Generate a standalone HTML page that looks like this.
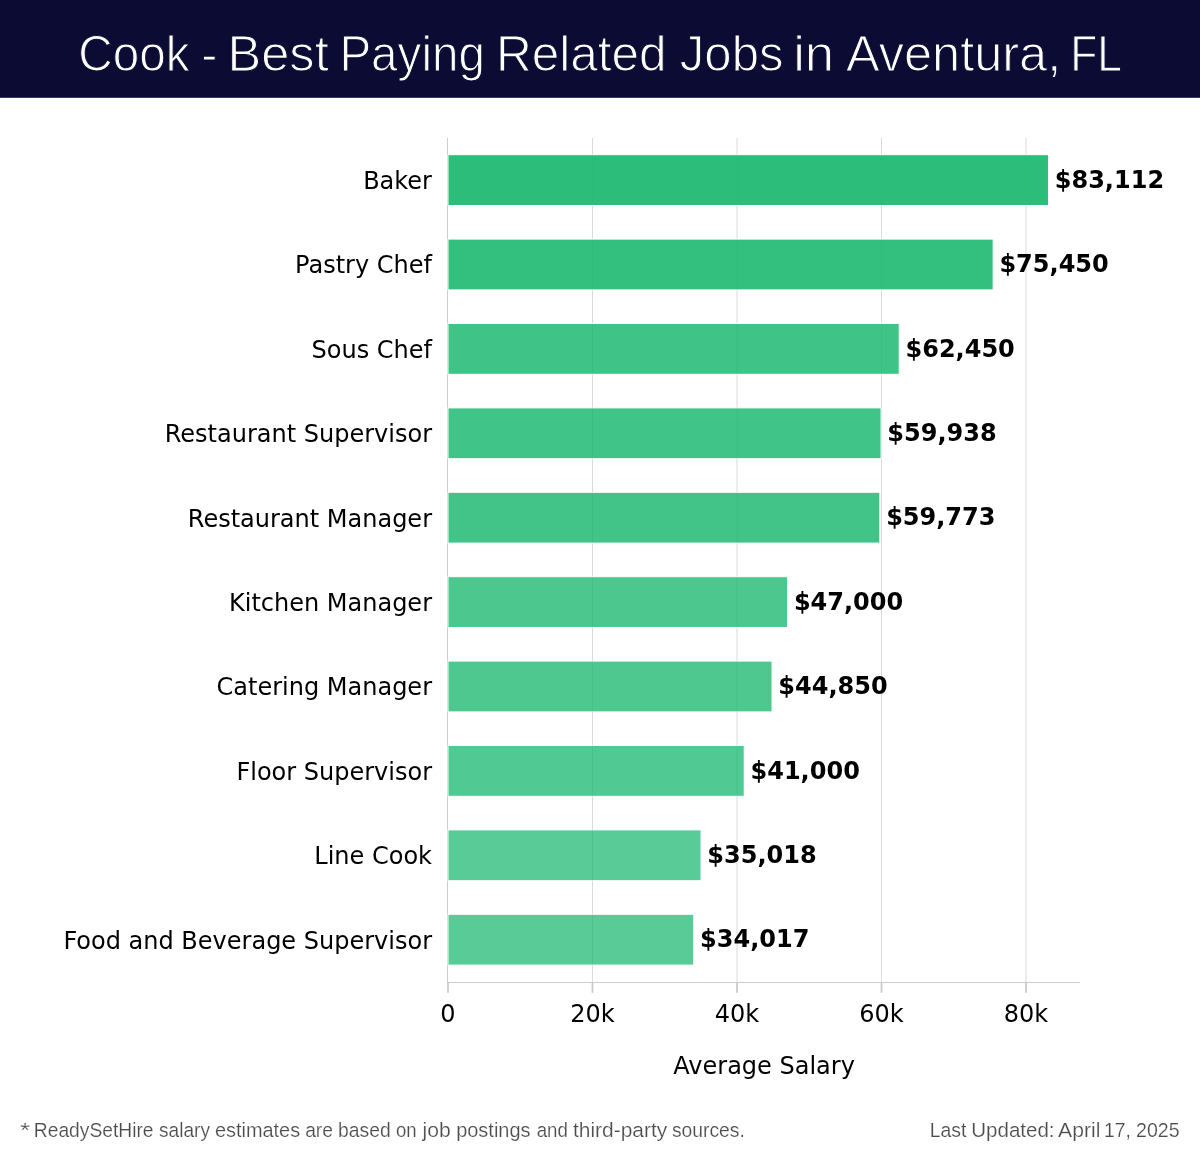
<!DOCTYPE html>
<html lang="en"><head><meta charset="utf-8"><title>Cook - Best Paying Related Jobs in Aventura, FL</title>
<style>
html,body{margin:0;padding:0;background:#fff}
svg{display:block}
.t{font-family:"DejaVu Sans","Liberation Sans",sans-serif;font-size:24px;fill:#000}
.b{font-family:"DejaVu Sans","Liberation Sans",sans-serif;font-size:24px;font-weight:bold;fill:#000}
.h{font-family:"Liberation Sans","DejaVu Sans",sans-serif;fill:#fff;stroke:#0b0b34;stroke-width:1.1px}
.f{font-family:"Liberation Sans","DejaVu Sans",sans-serif;fill:#4c4c4c;stroke:#fff;stroke-width:0.2px}
</style></head><body>
<svg width="1200" height="1158" viewBox="0 0 1200 1158">
<rect x="0" y="0" width="1200" height="1158" fill="#fff"/>
<rect x="0" y="0" width="1200" height="97.8" fill="#0b0b34"/>

<text class="h" font-size="50.5" y="71"><tspan x="78.24" textLength="111.26" lengthAdjust="spacingAndGlyphs">Cook</tspan> <tspan x="201.14" textLength="16.02" lengthAdjust="spacingAndGlyphs">-</tspan> <tspan x="227.53" textLength="101.19" lengthAdjust="spacingAndGlyphs">Best</tspan> <tspan x="339.38" textLength="145.55" lengthAdjust="spacingAndGlyphs">Paying</tspan> <tspan x="495.92" textLength="170.61" lengthAdjust="spacingAndGlyphs">Related</tspan> <tspan x="679.81" textLength="103.68" lengthAdjust="spacingAndGlyphs">Jobs</tspan> <tspan x="793.16" textLength="41.03" lengthAdjust="spacingAndGlyphs">in</tspan> <tspan x="845.99" textLength="215.23" lengthAdjust="spacingAndGlyphs">Aventura,</tspan> <tspan x="1070.14" textLength="51.82" lengthAdjust="spacingAndGlyphs">FL</tspan></text>
<line x1="592.50" y1="138" x2="592.50" y2="982" stroke="#dadada" stroke-width="1"/>
<line x1="737.00" y1="138" x2="737.00" y2="982" stroke="#dadada" stroke-width="1"/>
<line x1="881.50" y1="138" x2="881.50" y2="982" stroke="#dadada" stroke-width="1"/>
<line x1="1026.00" y1="138" x2="1026.00" y2="982" stroke="#dadada" stroke-width="1"/>
<line x1="447.5" y1="138" x2="447.5" y2="983" stroke="#cdcdcd" stroke-width="1"/>
<line x1="447" y1="982.5" x2="1080" y2="982.5" stroke="#cdcdcd" stroke-width="1"/>
<line x1="448.00" y1="983" x2="448.00" y2="992.8" stroke="#cbcbcb" stroke-width="1.8"/>
<line x1="592.50" y1="983" x2="592.50" y2="992.8" stroke="#cbcbcb" stroke-width="1.8"/>
<line x1="737.00" y1="983" x2="737.00" y2="992.8" stroke="#cbcbcb" stroke-width="1.8"/>
<line x1="881.50" y1="983" x2="881.50" y2="992.8" stroke="#cbcbcb" stroke-width="1.8"/>
<line x1="1026.00" y1="983" x2="1026.00" y2="992.8" stroke="#cbcbcb" stroke-width="1.8"/>
<rect x="448.00" y="154.70" width="600.48" height="50.8" fill="#1db971" stroke="#fff" stroke-width="1" opacity="0.930"/>
<text class="t" x="432" y="189.00" text-anchor="end">Baker</text>
<text class="b" x="1054.78" y="187.80">$83,112</text>
<rect x="448.00" y="239.10" width="545.13" height="50.8" fill="#1db971" stroke="#fff" stroke-width="1" opacity="0.900"/>
<text class="t" x="432" y="273.40" text-anchor="end">Pastry Chef</text>
<text class="b" x="999.43" y="272.20">$75,450</text>
<rect x="448.00" y="323.50" width="451.20" height="50.8" fill="#1db971" stroke="#fff" stroke-width="1" opacity="0.848"/>
<text class="t" x="432" y="357.80" text-anchor="end">Sous Chef</text>
<text class="b" x="905.50" y="356.60">$62,450</text>
<rect x="448.00" y="407.90" width="433.05" height="50.8" fill="#1db971" stroke="#fff" stroke-width="1" opacity="0.838"/>
<text class="t" x="432" y="442.20" text-anchor="end">Restaurant Supervisor</text>
<text class="b" x="887.35" y="441.00">$59,938</text>
<rect x="448.00" y="492.30" width="431.86" height="50.8" fill="#1db971" stroke="#fff" stroke-width="1" opacity="0.837"/>
<text class="t" x="432" y="526.60" text-anchor="end">Restaurant Manager</text>
<text class="b" x="886.16" y="525.40">$59,773</text>
<rect x="448.00" y="576.70" width="339.57" height="50.8" fill="#1db971" stroke="#fff" stroke-width="1" opacity="0.787"/>
<text class="t" x="432" y="611.00" text-anchor="end">Kitchen Manager</text>
<text class="b" x="793.88" y="609.80">$47,000</text>
<rect x="448.00" y="661.10" width="324.04" height="50.8" fill="#1db971" stroke="#fff" stroke-width="1" opacity="0.778"/>
<text class="t" x="432" y="695.40" text-anchor="end">Catering Manager</text>
<text class="b" x="778.34" y="694.20">$44,850</text>
<rect x="448.00" y="745.50" width="296.22" height="50.8" fill="#1db971" stroke="#fff" stroke-width="1" opacity="0.763"/>
<text class="t" x="432" y="779.80" text-anchor="end">Floor Supervisor</text>
<text class="b" x="750.52" y="778.60">$41,000</text>
<rect x="448.00" y="829.90" width="253.01" height="50.8" fill="#1db971" stroke="#fff" stroke-width="1" opacity="0.739"/>
<text class="t" x="432" y="864.20" text-anchor="end">Line Cook</text>
<text class="b" x="707.31" y="863.00">$35,018</text>
<rect x="448.00" y="914.30" width="245.77" height="50.8" fill="#1db971" stroke="#fff" stroke-width="1" opacity="0.735"/>
<text class="t" x="432" y="948.60" text-anchor="end">Food and Beverage Supervisor</text>
<text class="b" x="700.07" y="947.40">$34,017</text>
<text class="t" x="448.00" y="1021.6" text-anchor="middle">0</text>
<text class="t" x="592.50" y="1021.6" text-anchor="middle">20k</text>
<text class="t" x="737.00" y="1021.6" text-anchor="middle">40k</text>
<text class="t" x="881.50" y="1021.6" text-anchor="middle">60k</text>
<text class="t" x="1026.00" y="1021.6" text-anchor="middle">80k</text>
<text class="t" x="764.1" y="1073.6" text-anchor="middle">Average Salary</text>
<text class="f" font-size="19.3" y="1137"><tspan x="20.00" textLength="10.18" lengthAdjust="spacingAndGlyphs">*</tspan> <tspan x="33.82" textLength="119.71" lengthAdjust="spacingAndGlyphs">ReadySetHire</tspan> <tspan x="159.06" textLength="51.01" lengthAdjust="spacingAndGlyphs">salary</tspan> <tspan x="214.92" textLength="85.20" lengthAdjust="spacingAndGlyphs">estimates</tspan> <tspan x="305.13" textLength="27.84" lengthAdjust="spacingAndGlyphs">are</tspan> <tspan x="338.10" textLength="52.65" lengthAdjust="spacingAndGlyphs">based</tspan> <tspan x="395.89" textLength="20.70" lengthAdjust="spacingAndGlyphs">on</tspan> <tspan x="422.51" textLength="28.16" lengthAdjust="spacingAndGlyphs">job</tspan> <tspan x="456.16" textLength="74.35" lengthAdjust="spacingAndGlyphs">postings</tspan> <tspan x="536.66" textLength="31.24" lengthAdjust="spacingAndGlyphs">and</tspan> <tspan x="572.96" textLength="94.29" lengthAdjust="spacingAndGlyphs">third-party</tspan> <tspan x="671.95" textLength="72.93" lengthAdjust="spacingAndGlyphs">sources.</tspan></text>
<text class="f" font-size="19.3" y="1137"><tspan x="929.65" textLength="36.73" lengthAdjust="spacingAndGlyphs">Last</tspan> <tspan x="971.31" textLength="83.28" lengthAdjust="spacingAndGlyphs">Updated:</tspan> <tspan x="1058.13" textLength="42.23" lengthAdjust="spacingAndGlyphs">April</tspan> <tspan x="1104.12" textLength="26.87" lengthAdjust="spacingAndGlyphs">17,</tspan> <tspan x="1136.09" textLength="43.53" lengthAdjust="spacingAndGlyphs">2025</tspan></text>
</svg></body></html>
